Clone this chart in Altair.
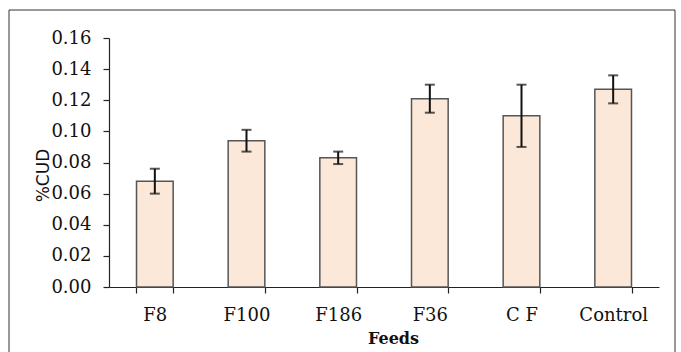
import altair as alt
import pandas as pd

feeds = ["F8", "F100", "F186", "F36", "C F", "Control"]
cud = [0.068, 0.094, 0.083, 0.121, 0.110, 0.127]
err = [0.008, 0.007, 0.004, 0.009, 0.020, 0.009]

df = pd.DataFrame({
    "feed": feeds,
    "cud": cud,
    "lo": [c - e for c, e in zip(cud, err)],
    "hi": [c + e for c, e in zip(cud, err)],
})

W, H = 550, 249

x_scale = alt.Scale(paddingInner=0.6, paddingOuter=0.3)
y_scale = alt.Scale(domain=[0, 0.16], nice=False)

x_axis = alt.Axis(title="Feeds", labelAngle=0, tickBand="extent", labelFont="DejaVu Serif",
                  labelFontSize=18, labelColor="#111", labelPadding=13, tickSize=6,
                  tickColor="#222", domainColor="#222", tickWidth=1.2, domainWidth=1.2,
                  titleFont="DejaVu Serif", titleFontSize=16, titleFontWeight="bold",
                  titleX=284, titleY=51, titleBaseline="middle", titleColor="#111")
y_axis = alt.Axis(title="%CUD", values=[0, 0.02, 0.04, 0.06, 0.08, 0.10, 0.12, 0.14, 0.16],
                  format=".2f", grid=False, labelFont="DejaVu Serif", labelFontSize=18,
                  labelOverlap=False, labelFlush=False,
                  labelColor="#111", tickSize=6, labelPadding=12, tickColor="#222",
                  domainColor="#222", tickWidth=1.2, domainWidth=1.2,
                  titleFont="DejaVu Sans", titleFontSize=17, titleFontWeight="normal",
                  titleX=-66, titleY=137, titleAngle=270, titleAlign="center",
                  titleBaseline="middle", titleColor="#111")

x = alt.X("feed:N", sort=feeds, scale=x_scale, axis=x_axis)

frame = alt.Chart(pd.DataFrame({"a": [0]})).mark_rect(
    fill=None, stroke="#333", strokeWidth=1
).encode(x=alt.value(-100), x2=alt.value(W + 16), y=alt.value(-28), y2=alt.value(H + 80))

bars = alt.Chart(df).mark_bar(fill="#FCE8D8", stroke="#555", strokeWidth=1.5).encode(
    x=x, y=alt.Y("cud:Q", scale=y_scale, axis=y_axis))
rules = alt.Chart(df).mark_rule(color="#111", strokeWidth=2).encode(
    x=x, y=alt.Y("lo:Q", scale=y_scale, axis=y_axis), y2="hi:Q")
cap_lo = alt.Chart(df).mark_tick(color="#111", size=10, thickness=2, orient="horizontal").encode(
    x=x, y=alt.Y("lo:Q", scale=y_scale, axis=y_axis))
cap_hi = alt.Chart(df).mark_tick(color="#111", size=10, thickness=2, orient="horizontal").encode(
    x=x, y=alt.Y("hi:Q", scale=y_scale, axis=y_axis))

chart = alt.layer(frame, bars, rules, cap_lo, cap_hi).properties(
    width=W, height=H,
    autosize=alt.AutoSizeParams(type="none"),
    padding={"left": 109, "top": 38, "right": 22, "bottom": 65},
    background="white",
).configure_view(stroke=None)

chart.save("out.html", embed_options={"renderer": "svg", "actions": False})
